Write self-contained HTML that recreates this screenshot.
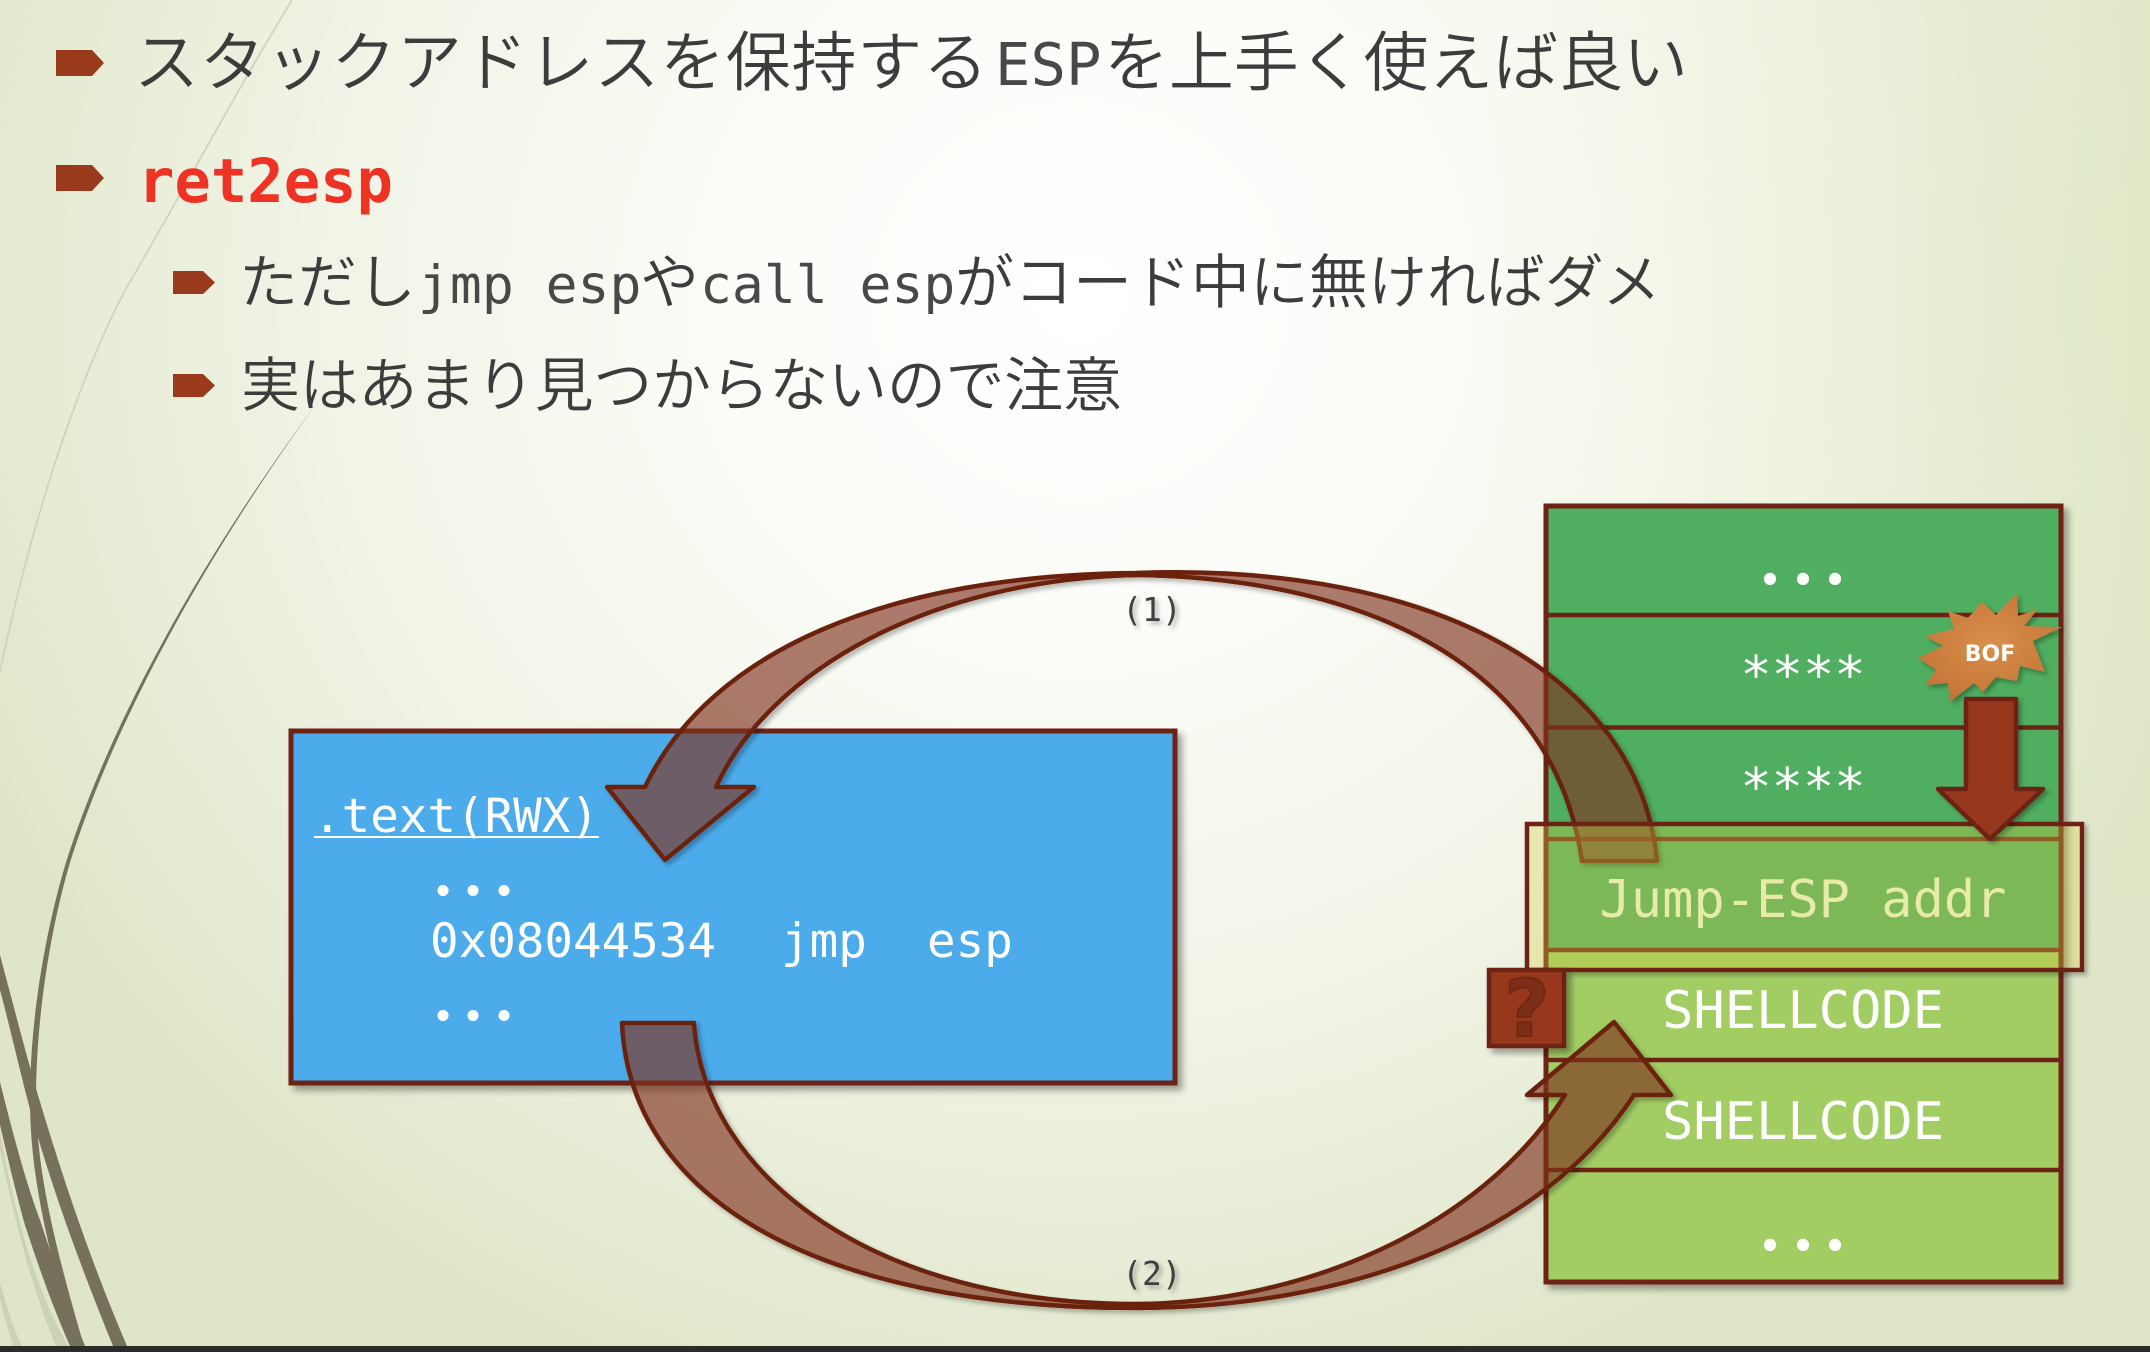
<!DOCTYPE html>
<html><head><meta charset="utf-8"><style>
html,body{margin:0;padding:0;width:2150px;height:1352px;overflow:hidden;background:#fff}
svg{display:block}
.jp{font-family:"Liberation Sans","Noto Sans CJK JP",sans-serif;font-weight:350;fill:#3c3c3c}
.m{font-family:"DejaVu Sans Mono","Liberation Mono",monospace}
.w{fill:#fff;font-size:52px;text-anchor:middle}
.b{fill:#fff;font-size:47.500px;white-space:pre}
.d{font-family:"Liberation Serif",serif;font-weight:700;fill:#fff;text-anchor:middle}
</style></head><body>
<svg width="2150" height="1352" viewBox="0 0 2150 1352" xmlns="http://www.w3.org/2000/svg">
<defs>
<radialGradient id="bg" gradientUnits="userSpaceOnUse" cx="0" cy="0" r="1" gradientTransform="translate(1080 300) scale(1200 1150)">
<stop offset="0" stop-color="#ffffff"/><stop offset=".3" stop-color="#fbfcf7"/><stop offset=".65" stop-color="#f0f3e5"/><stop offset="1" stop-color="#dfe6c8"/>
</radialGradient>
<radialGradient id="tr" gradientUnits="userSpaceOnUse" cx="2150" cy="300" r="700">
<stop offset="0" stop-color="#cfe0a0" stop-opacity=".22"/><stop offset="1" stop-color="#cfe0a0" stop-opacity="0"/>
</radialGradient>
<radialGradient id="burst" cx=".5" cy=".45" r=".6"><stop offset="0" stop-color="#d98f4c"/><stop offset="1" stop-color="#c27436"/></radialGradient>
<filter id="sh" x="-10%" y="-10%" width="125%" height="125%"><feDropShadow dx="5" dy="5" stdDeviation="3.500" flood-color="#000" flood-opacity=".35"/></filter>
<filter id="sh2" x="-10%" y="-10%" width="125%" height="125%"><feDropShadow dx="3" dy="3" stdDeviation="2.500" flood-color="#000" flood-opacity=".3"/></filter>
<filter id="shout" x="-10%" y="-10%" width="125%" height="125%">
<feComponentTransfer in="SourceAlpha" result="mask"><feFuncA type="linear" slope="20"/></feComponentTransfer>
<feGaussianBlur in="mask" stdDeviation="2.500" result="b"/>
<feOffset in="b" dx="3" dy="3" result="o"/>
<feComponentTransfer in="o" result="o2"><feFuncA type="linear" slope=".28"/></feComponentTransfer>
<feComposite in="o2" in2="mask" operator="out" result="c"/>
<feMerge><feMergeNode in="c"/><feMergeNode in="SourceGraphic"/></feMerge>
</filter>
</defs>
<rect width="2150" height="1352" fill="url(#bg)"/>
<rect width="2150" height="1352" fill="url(#tr)"/>

<!-- wisps -->
<path d="M292 0C240 85 178 200 127 287C95 345 40 480 0 672" fill="none" stroke="#cfd4bd" stroke-width="1.800"/>
<path d="M0 1130C10 1190 30 1280 68 1346L56 1346C28 1280 8 1190 0 1150Z" fill="#cdd2b5"/>
<path d="M0 1283C8 1310 14 1330 22 1346L13 1346C8 1330 4 1315 0 1300Z" fill="#cdd2b5"/>
<path d="M319 400C215 540 120 700 70 850C53 901 30 1000 30 1100C30 1170 45 1240 76 1346L84 1346C53 1240 37 1170 36 1100C36 1000 57 901 74 850C124 700 217 540 319 400Z" fill="#76715a"/>
<path d="M0 955C12 1000 25 1050 35 1085C60 1170 90 1260 127 1346L113 1346C78 1260 45 1170 25 1090C15 1050 8 1020 0 990Z" fill="#76715a"/>
<path d="M0 1082C12 1130 25 1180 40 1220C55 1265 68 1305 85 1346L70 1346C52 1305 38 1265 25 1225C15 1190 6 1150 0 1125Z" fill="#76715a"/>

<!-- bullets -->
<g fill="#993a1c">
<path d="M56 50H92L104 63L92 76H56Z"/>
<path d="M56 165H92L104 178L92 191H56Z"/>
<path d="M173 271H203L215 282.500L203 294H173Z"/>
<path d="M173 374H203L215 385.500L203 397H173Z"/>
</g>

<!-- headings -->
<text class="jp" y="85" font-size="65"><tspan x="134" textLength="854">スタックアドレスを保持する</tspan></text>
<text class="m" x="995" y="85" font-size="59" fill="#484848">ESP</text>
<text class="jp" y="85" font-size="65"><tspan x="1104" textLength="584">を上手く使えば良い</tspan></text>
<text class="m" x="138" y="202" font-size="60.500" font-weight="700" fill="#ee3224">ret2esp</text>
<text class="jp" y="303" font-size="59"><tspan x="239">ただし</tspan></text>
<text class="m" x="418" y="303" font-size="53" fill="#484848" xml:space="preserve">jmp esp</text>
<text class="jp" y="303" font-size="59"><tspan x="640">や</tspan></text>
<text class="m" x="700" y="303" font-size="53" fill="#484848" xml:space="preserve">call esp</text>
<text class="jp" y="303" font-size="59"><tspan x="955" textLength="706">がコード中に無ければダメ</tspan></text>
<text class="jp" y="406" font-size="59"><tspan x="241" textLength="881">実はあまり見つからないので注意</tspan></text>

<!-- blue box -->
<rect x="291" y="731" width="884" height="352" fill="#4cabeb" stroke="#6e2412" stroke-width="5" filter="url(#sh)"/>
<text class="m b" x="313" y="832">.text(RWX)</text>
<rect x="314" y="836" width="285" height="2" fill="#fff"/>
<text class="d" x="443 473 504" y="895" font-size="68">...</text>
<text class="m b" x="430" y="957">0x08044534</text>
<text class="m b" x="781" y="957">jmp</text>
<text class="m b" x="927" y="957">esp</text>
<text class="d" x="443 473 504" y="1020" font-size="68">...</text>

<!-- stack -->
<g filter="url(#sh)">
<rect x="1546" y="506" width="515" height="333" fill="#4fae5e"/>
<rect x="1546" y="839" width="515" height="111" fill="#4fae5e"/>
<rect x="1546" y="950" width="515" height="332" fill="#a2cd64"/>
<g fill="none" stroke="#6e2412">
<path stroke-width="4.500" d="M1546 615H2061M1546 727.500H2061M1546 839H2061M1546 950H2061M1546 1060H2061M1546 1170H2061"/>
<rect x="1546" y="506" width="515" height="776" stroke-width="5"/>
</g>
</g>
<text class="d" x="1770 1803 1835" y="584" font-size="75">...</text>
<text class="m w" x="1803" y="693">****</text>
<text class="m w" x="1803" y="805">****</text>
<text class="m w" x="1803" y="1028">SHELLCODE</text>
<text class="m w" x="1803" y="1139">SHELLCODE</text>
<text class="d" x="1770 1803 1835" y="1250" font-size="75">...</text>

<!-- arrow 1 -->
<path filter="url(#shout)" d="M1582 861C1552 655 1350 578 1136 575C930 580 770 670 716 787H754L665 860L607 787H645C710 650 890 575 1136 573C1440 562 1640 680 1657 861Z" fill="rgb(125,48,31)" fill-opacity=".64" stroke="#6b2010" stroke-width="4.500" stroke-linejoin="round"/>

<!-- Jump-ESP text and overlay -->
<text class="m w" x="1803" y="917" style="fill:#f0f8d8">Jump-ESP addr</text>
<rect x="1527" y="824" width="555" height="146" fill="rgb(215,205,70)" fill-opacity=".33" stroke="#6e2412" stroke-width="4.500" filter="url(#shout)"/>

<!-- red arrow -->
<path filter="url(#sh2)" d="M1966 699H2016V789H2043L1990 839L1938 789H1966Z" fill="#97381c" stroke="#6e2412" stroke-width="4.500" stroke-linejoin="round"/>

<!-- burst -->
<path filter="url(#sh2)" d="M1948 611L1968 618L1982 602L1996 615L2017 593L2018 616L2038 609L2024 626L2062 627L2033 641L2045 672L2020 666L2017 681L1996 677L1983 692L1974 683L1950 702L1948 683L1925 685L1936 670L1918 658L1943 646L1925 636L1954 629Z" fill="url(#burst)"/>
<text x="1990" y="661" font-family="DejaVu Sans,sans-serif" font-weight="700" font-size="22" fill="#fff" text-anchor="middle">BOF</text>

<!-- question box -->
<rect x="1489" y="970" width="75" height="76" fill="#97381c" stroke="#6e2412" stroke-width="4.500" filter="url(#sh)"/>
<text x="1527" y="1036" font-family="DejaVu Sans,sans-serif" font-weight="700" font-size="78" fill="#7d2e18" stroke="#702712" stroke-width="2" text-anchor="middle">?</text>

<!-- arrow 2 -->
<path filter="url(#shout)" d="M622 1023C630 1200 820 1308 1136 1308C1340 1308 1540 1240 1634 1095H1671L1614 1022L1527 1095H1565C1480 1230 1300 1303 1136 1304C880 1304 705 1180 694 1023Z" fill="rgb(125,48,31)" fill-opacity=".64" stroke="#6b2010" stroke-width="4.500" stroke-linejoin="round"/>

<!-- labels -->
<text class="m" x="1152" y="621" font-size="33" fill="#404040" text-anchor="middle" filter="url(#sh2)">(1)</text>
<text class="m" x="1152" y="1285" font-size="33" fill="#404040" text-anchor="middle" filter="url(#sh2)">(2)</text>

<rect x="0" y="1346" width="2150" height="6" fill="#2b2b2b"/>
</svg>
</body></html>
